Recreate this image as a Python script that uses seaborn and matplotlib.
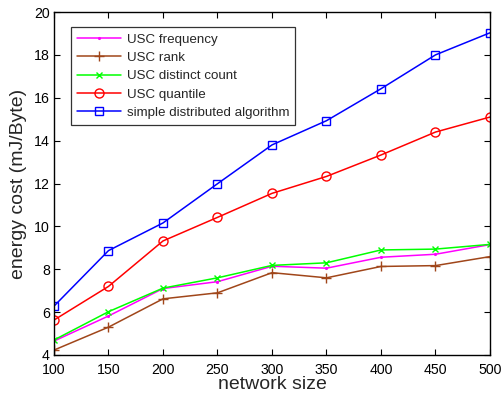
import matplotlib
matplotlib.use("Agg")
import matplotlib.pyplot as plt
import seaborn as sns
import pandas as pd

network_size = [100, 150, 200, 250, 300, 350, 400, 450, 500]
usc_frequency = [4.65, 5.82, 7.1, 7.42, 8.14, 8.05, 8.56, 8.7, 9.15]
usc_rank = [4.23, 5.3, 6.62, 6.9, 7.84, 7.6, 8.13, 8.17, 8.59]
usc_distinct = [4.7, 6.02, 7.12, 7.6, 8.18, 8.3, 8.9, 8.94, 9.16]
usc_quantile = [5.63, 7.2, 9.32, 10.42, 11.54, 12.33, 13.33, 14.4, 15.1]
simple_dist = [6.28, 8.87, 10.16, 11.99, 13.8, 14.93, 16.42, 18.0, 19.03]

series = [
    ("USC frequency", usc_frequency, "#ff00ff", ".", 2.5, None),
    ("USC rank", usc_rank, "#a0461a", "+", 6.5, None),
    ("USC distinct count", usc_distinct, "#00ff00", "x", 4.8, None),
    ("USC quantile", usc_quantile, "#ff0000", "o", 6.5, "none"),
    ("simple distributed algorithm", simple_dist, "#0000ff", "s", 5.5, "none"),
]

sns.set_style("white")
plt.rcParams["font.family"] = ["Liberation Sans", "DejaVu Sans"]

fig = plt.figure(figsize=(5.02, 3.98), dpi=100)
ax = fig.add_axes([54 / 502, 1 - 355 / 398, 436 / 502, 343 / 398])

for name, vals, color, marker, ms, mfc in series:
    df = pd.DataFrame({"network size": network_size, "cost": vals})
    sns.lineplot(
        data=df, x="network size", y="cost", ax=ax, color=color,
        marker=marker, markersize=ms, linewidth=1.1, label=name,
        markerfacecolor=(color if mfc is None else "none"),
        markeredgecolor=color, markeredgewidth=1.0,
    )

ax.set_xlim(100, 500)
ax.set_ylim(4, 20)
ax.set_xticks(network_size)
ax.set_yticks(range(4, 21, 2))
ax.tick_params(direction="in", length=4, width=0.8, labelsize=10.2,
               top=True, right=True, bottom=True, left=True, colors="black")
ax.tick_params(axis="x", pad=6)
ax.tick_params(axis="y", pad=3)
for s in ax.spines.values():
    s.set_color("black")
    s.set_linewidth(1.0)
ax.set_xlabel("network size", fontsize=14, labelpad=-1)
ax.set_ylabel("energy cost (mJ/Byte)", fontsize=14, labelpad=5)

leg = ax.legend(loc="upper left", bbox_to_anchor=(0.04, 0.955), fontsize=9.6,
                frameon=True, fancybox=False, edgecolor="black",
                handlelength=3.3, handletextpad=0.4, borderpad=0.45,
                labelspacing=0.45, borderaxespad=0)
leg.get_frame().set_linewidth(0.9)

fig.savefig("out.png", dpi=100)
